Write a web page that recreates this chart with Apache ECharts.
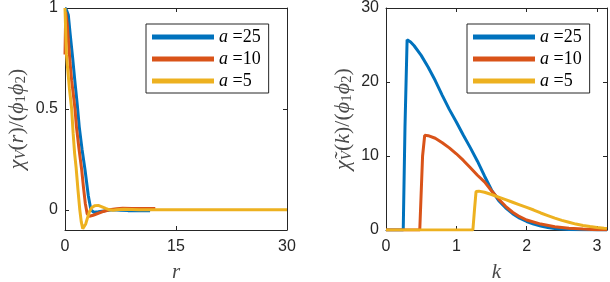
<!DOCTYPE html>
<html>
<head>
<meta charset="utf-8">
<script src="https://cdn.jsdelivr.net/npm/echarts@6/dist/echarts.min.js"></script>
<style>html,body{margin:0;padding:0;background:#fff;}#c{width:610px;height:282px;}</style>
</head>
<body>
<div id="c"></div>
<script>
// ---- data ----
var aValues = [25, 10, 5];
var seriesNames = ['a=25', 'a=10', 'a=5'];
var colors = ['#0072BD', '#D95319', '#EDB120'];

// left panel: chi_V(r)
var rBlue = [0, 0.2, 0.45, 0.7, 1.04, 1.3, 1.66, 1.93, 2.3, 2.7, 3.15, 3.5, 3.9, 4.5, 5.5, 6.5, 7.5, 8.5, 10, 11.5];
var vBlue = [1, 0.99, 0.965, 0.87, 0.75, 0.65, 0.52, 0.41, 0.30, 0.20, 0.07, 0.0, -0.012, -0.01, -0.004, 0, -0.002, -0.004, -0.004, -0.004];
var rRed = [0, 0.1, 0.3, 0.68, 0.9, 1.1, 1.35, 1.55, 1.9, 2.25, 2.5, 2.75, 3.0, 3.3, 3.8, 4.5, 5.2, 6, 7, 7.8, 9, 10.5, 12.2];
var vRed = [0.77, 0.98, 0.92, 0.73, 0.64, 0.58, 0.5, 0.41, 0.3, 0.2, 0.11, 0.03, -0.02, -0.032, -0.027, -0.017, -0.008, 0, 0.005, 0.008, 0.007, 0.007, 0.006];
var rYellow = [0, 0.1, 0.2, 0.31, 0.6, 0.9, 1.1, 1.3, 1.5, 1.75, 2.0, 2.2, 2.4, 2.6, 2.8, 3.0, 3.3, 3.6, 4.0, 4.5, 5.0, 5.5, 6.0, 6.5, 7, 8, 9, 10, 12, 15, 20, 25, 30];
var vYellow = [1, 0.88, 0.77, 0.72, 0.6, 0.5, 0.38, 0.28, 0.21, 0.1, 0.0, -0.06, -0.093, -0.09, -0.07, -0.045, -0.01, 0.01, 0.02, 0.022, 0.015, 0.007, 0, -0.002, 0, 0.003, 0.002, 0, 0, 0, 0, 0, 0];

// right panel: chi~_V(k)
var kBlue = [0, 0.245, 0.27, 0.3, 0.35, 0.4, 0.5, 0.6, 0.7, 0.8, 0.9, 1.0, 1.1, 1.2, 1.3, 1.4, 1.5, 1.6, 1.7, 1.8, 1.9, 2.0, 2.1, 2.2, 2.3, 2.4, 2.6, 2.8, 3.14159];
var wBlue = [0, 0, 14, 25.7, 25.4, 24.9, 23.6, 22.0, 20.2, 18.2, 16.3, 14.6, 12.8, 11.1, 9.3, 7.3, 5.4, 4.0, 3.0, 2.2, 1.6, 1.15, 0.8, 0.55, 0.35, 0.2, 0.07, 0.02, 0];
var kRed = [0, 0.48, 0.52, 0.55, 0.6, 0.7, 0.8, 0.9, 1.0, 1.1, 1.2, 1.3, 1.4, 1.5, 1.6, 1.7, 1.8, 1.9, 2.0, 2.2, 2.4, 2.6, 2.8, 3.0, 3.14159];
var wRed = [0, 0, 10, 12.8, 12.75, 12.4, 11.8, 11.1, 10.3, 9.4, 8.4, 7.4, 6.5, 5.3, 4.2, 3.2, 2.4, 1.8, 1.35, 0.8, 0.45, 0.25, 0.12, 0.05, 0.02];
var kYellow = [0, 1.235, 1.26, 1.28, 1.32, 1.4, 1.5, 1.6, 1.7, 1.8, 1.9, 2.0, 2.1, 2.2, 2.3, 2.4, 2.5, 2.6, 2.7, 2.8, 2.9, 3.0, 3.1, 3.14159];
var wYellow = [0, 0, 3, 5.2, 5.25, 5.1, 4.8, 4.45, 4.1, 3.75, 3.4, 3.05, 2.7, 2.3, 1.95, 1.6, 1.3, 1.05, 0.8, 0.62, 0.47, 0.35, 0.25, 0.22];

// ticks
var leftXTicks = [0, 15, 30];
var leftYTicks = [0, 0.5, 1];
var rightXTicks = [0, 1, 2, 3];
var rightYTicks = [0, 10, 20, 30];

function pairs(xs, ys) { return xs.map(function (x, i) { return [x, ys[i]]; }); }

var leftData = [pairs(rBlue, vBlue), pairs(rRed, vRed), pairs(rYellow, vYellow)];
var rightData = [pairs(kBlue, wBlue), pairs(kRed, wRed), pairs(kYellow, wYellow)];

var axCol = '#262626';
var nameCol = '#4a4a4a';
var tickFont = { color: axCol, fontSize: 16, fontFamily: 'Liberation Sans' };
var nameRich = {
  c: { fontFamily: 'Liberation Serif', fontStyle: 'italic', fontSize: 22, color: nameCol, lineHeight: 24, verticalAlign: 'middle' },
  i: { fontFamily: 'Liberation Serif', fontStyle: 'italic', fontSize: 22, color: nameCol, lineHeight: 24, verticalAlign: 'middle' },
  p: { fontFamily: 'Liberation Serif', fontSize: 22, color: nameCol, lineHeight: 24, verticalAlign: 'middle' },
  s: { fontFamily: 'Liberation Serif', fontStyle: 'italic', fontSize: 15, color: nameCol, lineHeight: 14, verticalAlign: 'bottom' },
  n: { fontFamily: 'Liberation Serif', fontSize: 15, color: nameCol, lineHeight: 14, verticalAlign: 'bottom' }
};

function xAxisPair(gi, min, max, ticks, name) {
  return [{
    type: 'value', gridIndex: gi, min: min, max: max, position: 'bottom',
    axisLine: { show: true, onZero: false, lineStyle: { color: axCol, width: 1 } },
    axisTick: { show: true, inside: true, length: 4, customValues: ticks, lineStyle: { color: axCol } },
    axisLabel: { show: true, customValues: ticks, margin: 9, ...tickFont, formatter: function (v) { return String(v); } },
    splitLine: { show: false },
    name: name, nameLocation: 'middle', nameGap: 32,
    nameTextStyle: { fontFamily: 'Liberation Serif', fontStyle: 'italic', fontSize: 21, color: nameCol }
  }, {
    type: 'value', gridIndex: gi, min: min, max: max, position: 'top',
    axisLine: { show: true, onZero: false, lineStyle: { color: axCol, width: 1 } },
    axisTick: { show: true, inside: true, length: 4, customValues: ticks, lineStyle: { color: axCol } },
    axisLabel: { show: false }, splitLine: { show: false }
  }];
}
function yAxisPair(gi, min, max, ticks, name, gap) {
  return [{
    type: 'value', gridIndex: gi, min: min, max: max, position: 'left',
    axisLine: { show: true, onZero: false, lineStyle: { color: axCol, width: 1 } },
    axisTick: { show: true, inside: true, length: 4, customValues: ticks, lineStyle: { color: axCol } },
    axisLabel: { show: true, customValues: ticks, margin: 7, ...tickFont, formatter: function (v) { return String(v); } },
    splitLine: { show: false },
    name: name, nameLocation: 'middle', nameGap: gap, nameRotate: 90,
    nameTextStyle: { rich: nameRich }
  }, {
    type: 'value', gridIndex: gi, min: min, max: max, position: 'right',
    axisLine: { show: true, onZero: false, lineStyle: { color: axCol, width: 1 } },
    axisTick: { show: true, inside: true, length: 4, customValues: ticks, lineStyle: { color: axCol } },
    axisLabel: { show: false }, splitLine: { show: false }
  }];
}

var xAxes = xAxisPair(0, 0, 30, leftXTicks, 'r').concat(xAxisPair(1, 0, Math.PI, rightXTicks, 'k'));
var yAxes = yAxisPair(0, -0.1, 1, leftYTicks,
  '{c|χ}{s|V}{p|(}{i|r}{p|)/(}{c|ϕ}{n|1}{c|ϕ}{n|2}{p|)}', 36)
  .concat(yAxisPair(1, 0, 30, rightYTicks,
  '{c|χ̃}{s|V}{p|(}{i|k}{p|)/(}{c|ϕ}{n|1}{c|ϕ}{n|2}{p|)}', 31));

var series = [];
for (var i = 0; i < 3; i++) {
  series.push({
    name: seriesNames[i], type: 'line', xAxisIndex: 0, yAxisIndex: 0,
    data: leftData[i], showSymbol: false, symbol: 'none', clip: true,
    lineStyle: { color: colors[i], width: 3 }, itemStyle: { color: colors[i] }, z: 2 + i
  });
}
for (var j = 0; j < 3; j++) {
  series.push({
    name: seriesNames[j], type: 'line', xAxisIndex: 2, yAxisIndex: 2,
    data: rightData[j], showSymbol: false, symbol: 'none', clip: true,
    lineStyle: { color: colors[j], width: 3 }, itemStyle: { color: colors[j] }, z: 2 + j
  });
}

function legendAt(left) {
  return {
    show: true, orient: 'vertical', left: left, top: 24,
    data: seriesNames, icon: 'rect', itemWidth: 62, itemHeight: 5, itemGap: 4,
    padding: [4, 8, 3, 6], borderColor: axCol, borderWidth: 1, backgroundColor: '#fff',
    selectedMode: false,
    formatter: function (n) { return '{i|a}{t| =' + n.split('=')[1] + '}'; },
    textStyle: {
      color: '#000', lineHeight: 18, padding: [0, 0, 0, 0],
      rich: {
        i: { fontFamily: 'Liberation Serif', fontStyle: 'italic', fontSize: 18, color: '#000', lineHeight: 18 },
        t: { fontFamily: 'Liberation Serif', fontSize: 18, color: '#000', lineHeight: 18 }
      }
    }
  };
}

var chart = echarts.init(document.getElementById('c'), null, { renderer: 'canvas' });
chart.setOption({
  animation: false,
  backgroundColor: '#fff',
  grid: [
    { left: 65, top: 8, width: 222, height: 222, containLabel: false, outerBoundsMode: 'none' },
    { left: 386, top: 8, width: 221, height: 222, containLabel: false, outerBoundsMode: 'none' }
  ],
  xAxis: xAxes,
  yAxis: yAxes,
  legend: [legendAt(146), legendAt(467)],
  series: series
});
</script>
</body>
</html>
